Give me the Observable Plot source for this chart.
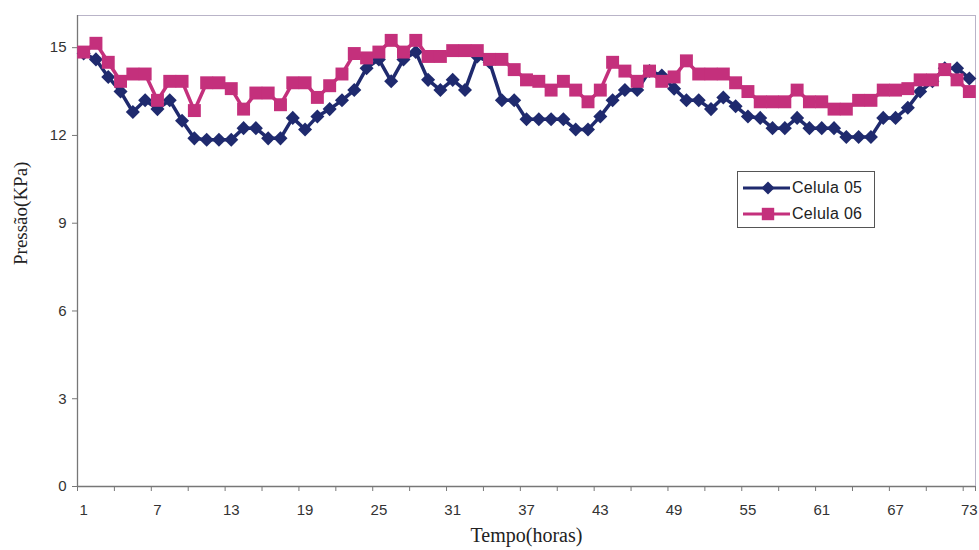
<!DOCTYPE html>
<html>
<head>
<meta charset="utf-8">
<script src="https://cdn.jsdelivr.net/npm/d3@7"></script>
<script src="https://cdn.jsdelivr.net/npm/@observablehq/plot@0.6"></script>
<style>
  body { margin: 0; background: #fff; }
  #chart { position: relative; width: 979px; height: 550px; }
  .legend {
    position: absolute; left: 737px; top: 171px; width: 136px; height: 55px;
    border: 1px solid #555; background: #fff;
    font: 16px "Liberation Sans", Arial, sans-serif; color: #222;
  }
  .legend .row { position: absolute; left: 0; height: 20px; display: flex; align-items: center; }
  .legend svg { display: block; }
  .legend span { margin-left: 2px; letter-spacing: 0.3px; }
</style>
</head>
<body>
<div id="chart"></div>
<script>
// Pressure readings (kPa) per hour, cells 05 and 06
const hours = d3.range(1, 74);

const celula05 = [
  14.8, 14.6, 14.0, 13.5, 12.8, 13.2, 12.9, 13.2, 12.5, 11.9,
  11.85, 11.85, 11.85, 12.25, 12.25, 11.9, 11.9, 12.6, 12.2, 12.65,
  12.9, 13.2, 13.55, 14.3, 14.6, 13.85, 14.6, 14.85, 13.9, 13.55,
  13.9, 13.55, 14.7, 14.5, 13.2, 13.2, 12.55, 12.55, 12.55, 12.55,
  12.2, 12.2, 12.65, 13.2, 13.55, 13.55, 14.2, 14.05, 13.6, 13.2,
  13.2, 12.9, 13.3, 13.0, 12.65, 12.6, 12.25, 12.25, 12.6, 12.25,
  12.25, 12.25, 11.95, 11.95, 11.95, 12.6, 12.6, 12.95, 13.5, 13.85,
  14.3, 14.3, 13.95
];

const celula06 = [
  14.85, 15.15, 14.5, 13.85, 14.1, 14.1, 13.2, 13.85, 13.85, 12.85,
  13.8, 13.8, 13.6, 12.9, 13.45, 13.45, 13.05, 13.8, 13.8, 13.3,
  13.7, 14.1, 14.8, 14.65, 14.85, 15.25, 14.85, 15.25, 14.7, 14.7,
  14.9, 14.9, 14.9, 14.6, 14.6, 14.25, 13.9, 13.85, 13.55, 13.85,
  13.55, 13.15, 13.55, 14.5, 14.2, 13.85, 14.2, 13.85, 14.0, 14.55,
  14.1, 14.1, 14.1, 13.8, 13.5, 13.15, 13.15, 13.15, 13.55, 13.15,
  13.15, 12.9, 12.9, 13.2, 13.2, 13.55, 13.55, 13.6, 13.9, 13.9,
  14.25, 13.9, 13.5
];

const yTicks = [0, 3, 6, 9, 12, 15];
const xTickLabels = [1, 7, 13, 19, 25, 31, 37, 43, 49, 55, 61, 67, 73];
// tick marks sit between categories, every third hour
const xTickMarks = d3.range(0.5, 74, 3).concat([73.5]);

const NAVY = "#1f2a6e";
const MAGENTA = "#c4307c";

// equal-diagonal diamond marker
const diamond = {
  draw(ctx, size) {
    const h = Math.sqrt(size / 2);
    ctx.moveTo(0, -h); ctx.lineTo(h, 0); ctx.lineTo(0, h); ctx.lineTo(-h, 0); ctx.closePath();
  }
};

const series = [
  {name: "Celula 05", values: celula05, color: NAVY, symbol: diamond, r: 5.6},
  {name: "Celula 06", values: celula06, color: MAGENTA, symbol: "square", r: 7.3}
];

const rowsOf = (s) => s.values.map((v, i) => ({hora: hours[i], pressao: v, celula: s.name}));

const seriesMarks = series.flatMap((s) => {
  const rows = rowsOf(s);
  return [
    Plot.line(rows, {x: "hora", y: "pressao", stroke: s.color, strokeWidth: 3.5}),
    Plot.dot(rows, {x: "hora", y: "pressao", symbol: () => s.symbol, r: s.r, fill: s.color, stroke: "none"})
  ];
});

const tickFont = "Liberation Sans, Arial, sans-serif";
const titleFont = "Liberation Serif, Times New Roman, serif";

const chart = Plot.plot({
  width: 979,
  height: 550,
  marginLeft: 77,
  marginRight: 4,
  marginTop: 15,
  marginBottom: 64,
  style: {background: "#fff", overflow: "visible"},
  x: {type: "linear", domain: [0.5, 73.5]},
  y: {domain: [0, 16.1]},
  symbol: {type: "identity"},
  marks: [
    Plot.frame({stroke: "#b9b4c8"}),
    Plot.axisY({ticks: yTicks, tickSize: 5, tickPadding: 6, label: null,
      stroke: "#777", fill: "#333", fontSize: 15, fontFamily: tickFont}),
    Plot.axisX({ticks: xTickMarks, tickSize: 5, tickFormat: () => "", label: null, stroke: "#777"}),
    Plot.axisX({ticks: xTickLabels, tickSize: 0, tickPadding: 18, label: null,
      fill: "#333", fontSize: 15, fontFamily: tickFont}),
    Plot.ruleX([0.5], {stroke: "#777", strokeWidth: 1.3}),
    Plot.ruleY([0], {stroke: "#777", strokeWidth: 1.3}),
    ...seriesMarks,
    Plot.text(["Tempo(horas)"], {text: (d) => d, frameAnchor: "bottom", dy: 55,
      fontFamily: titleFont, fontSize: 20, fill: "#222", letterSpacing: 1.6}),
    Plot.text(["Pressão(KPa)"], {text: (d) => d, frameAnchor: "left", dx: -57, dy: 14, rotate: -90,
      fontFamily: titleFont, fontSize: 19, fill: "#222"})
  ]
});

const holder = document.getElementById("chart");
holder.appendChild(chart);

// legend box
const legend = document.createElement("div");
legend.className = "legend";
series.forEach((s, i) => {
  const row = document.createElement("div");
  row.className = "row";
  row.style.top = (6 + i * 26) + "px";
  const svg = d3.create("svg").attr("width", 52).attr("height", 20);
  svg.append("line").attr("x1", 5).attr("x2", 52).attr("y1", 10).attr("y2", 10)
    .attr("stroke", s.color).attr("stroke-width", 3);
  if (s.symbol === "square") {
    svg.append("rect").attr("x", 30 - 6.2).attr("y", 10 - 6.2).attr("width", 12.4).attr("height", 12.4).attr("fill", s.color);
  } else {
    svg.append("path").attr("d", "M30,3.5L36.5,10L30,16.5L23.5,10Z").attr("fill", s.color);
  }
  row.appendChild(svg.node());
  const label = document.createElement("span");
  label.textContent = s.name;
  row.appendChild(label);
  legend.appendChild(row);
});
holder.appendChild(legend);
</script>
</body>
</html>
